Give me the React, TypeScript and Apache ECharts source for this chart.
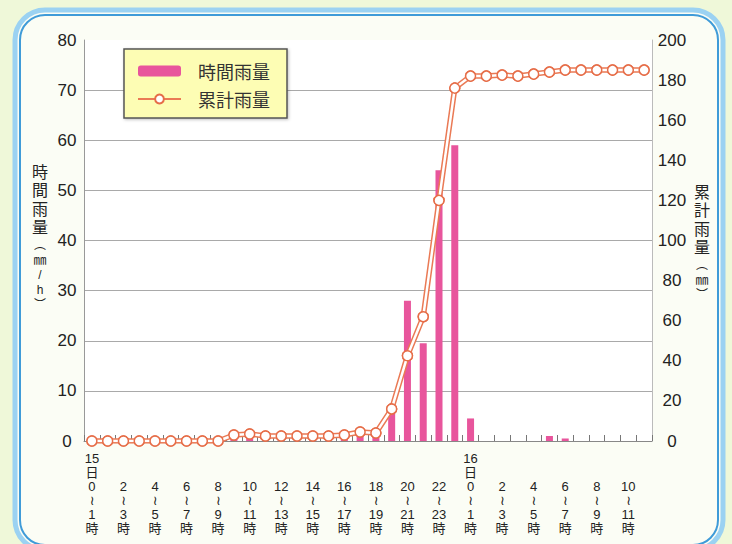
import React, { useEffect, useRef } from "react";
import * as echarts from "echarts";

const categories = [
  "15日0～1時", "1～2時", "2～3時", "3～4時", "4～5時", "5～6時", "6～7時", "7～8時",
  "8～9時", "9～10時", "10～11時", "11～12時", "12～13時", "13～14時", "14～15時", "15～16時",
  "16～17時", "17～18時", "18～19時", "19～20時", "20～21時", "21～22時", "22～23時", "23～24時",
  "16日0～1時", "1～2時", "2～3時", "3～4時", "4～5時", "5～6時", "6～7時", "7～8時",
  "8～9時", "9～10時", "10～11時", "11～12時",
];

// 時間雨量 (mm/h)
const hourlyRain = [
  0, 0, 0, 0, 0, 0, 0, 0,
  0, 2, 0.5, 0, 0.5, 0, 0.5, 0,
  0.5, 1, 1, 6, 28, 19.5, 54, 59,
  4.5, 0, 0, 0, 0, 1, 0.5, 0,
  0, 0, 0, 0,
];

// 累計雨量 (mm)
const cumulativeRain = [
  0, 0, 0, 0, 0, 0, 0, 0,
  0, 3, 3.5, 2.5, 2.5, 2.5, 2.5, 2.5,
  3, 4.5, 4, 16, 42.5, 62, 120, 176,
  182, 182, 182.5, 182, 183, 184, 185, 185,
  185, 185, 185, 185,
];

const leftTicks = { min: 0, max: 80, interval: 10 };
const rightTicks = { min: 0, max: 200, interval: 20 };

const leftName = ["時", "間", "雨", "量", "︵", "㎜", "/", "h", "︶"];
const rightName = ["累", "計", "雨", "量", "︵", "㎜", "︶"];

const FONT = '"Liberation Sans", "Noto Sans CJK JP", "DejaVu Sans", sans-serif';
const CJK = '"Noto Sans CJK JP", "Liberation Sans", sans-serif';

function stackLabel(v: string): string {
  const m = v.match(/^(?:(\d+)日)?(\d+)～(\d+)時$/);
  if (!m) return v;
  const lines: string[] = [];
  if (m[1]) lines.push(m[1], "日");
  lines.push(m[2], "≀", m[3], "時");
  return lines.join("\n");
}

function verticalName(chars: string[]): string {
  return chars
    .map((ch) =>
      /[\u4e00-\u9fff]/.test(ch) ? `{c|${ch}}` : ch === "㎜" ? `{m|${ch}}` : `{p|${ch}}`
    )
    .join("\n");
}

export default function App() {
  const ref = useRef<HTMLDivElement>(null);

  useEffect(() => {
    if (!ref.current) return;
    const chart = echarts.init(ref.current, undefined, { renderer: "svg" });

    const rich = {
      c: { fontSize: 16, lineHeight: 18.5, fontFamily: FONT, color: "#222" },
      m: { fontSize: 13, lineHeight: 15.5, fontFamily: FONT, color: "#222" },
      p: { fontSize: 12, lineHeight: 15, fontFamily: FONT, color: "#222" },
    };

    const graphic: any[] = [
      {
        type: "rect",
        z: -10,
        silent: true,
        shape: { x: 0, y: 0, width: 732, height: 544 },
        style: { fill: "#eff8d9" },
      },
      {
        type: "rect",
        z: -9,
        silent: true,
        shape: { x: 15, y: 10, width: 708, height: 540, r: 30 },
        style: { fill: "#fbfdf5", stroke: "#9bd2f2", lineWidth: 5 },
      },
      {
        type: "rect",
        z: -8,
        silent: true,
        shape: { x: 20, y: 15, width: 698, height: 530, r: 25 },
        style: { fill: "none", stroke: "#3f9bd8", lineWidth: 2 },
      },
      {
        type: "text",
        x: 40,
        y: 163,
        style: {
          text: verticalName(leftName),
          rich,
          textAlign: "center",
          textVerticalAlign: "top",
          fill: "#222",
        },
      },
      {
        type: "text",
        x: 702,
        y: 183,
        style: {
          text: verticalName(rightName),
          rich,
          textAlign: "center",
          textVerticalAlign: "top",
          fill: "#222",
        },
      },
    ];

    const lineOrange = "#ea7a55";
    const markerBorder = "#e66d48";

    chart.setOption({
      animation: false,
      graphic,
      grid: {
        left: 84,
        right: 80,
        top: 40,
        bottom: 103,
        show: true,
        backgroundColor: "#ffffff",
        borderWidth: 0,
      },
      legend: {
        orient: "vertical",
        left: 124,
        top: 49,
        padding: [13, 17, 10, 13],
        itemGap: 10,
        itemWidth: 43,
        itemHeight: 11,
        backgroundColor: "#fdfdb4",
        borderColor: "#555",
        borderWidth: 1.5,
        shadowColor: "rgba(0,0,0,0.25)",
        shadowBlur: 3,
        shadowOffsetX: 1,
        shadowOffsetY: 1,
        textStyle: { fontSize: 18, color: "#333", fontFamily: CJK, padding: [0, 0, 0, 12] },
        data: ["時間雨量", "累計雨量"],
      },
      xAxis: {
        type: "category",
        data: categories,
        boundaryGap: true,
        axisLine: { show: true, lineStyle: { color: "#888", width: 1 } },
        axisTick: {
          show: true,
          inside: true,
          length: 6,
          interval: 0,
          lineStyle: { color: "#777" },
        },
        axisLabel: {
          interval: 1,
          margin: 94,
          verticalAlign: "bottom",
          fontSize: 13,
          lineHeight: 14,
          color: "#222",
          fontFamily: FONT,
          formatter: (v: string) => stackLabel(v),
        },
        splitLine: { show: false },
      },
      yAxis: [
        {
          type: "value",
          ...leftTicks,
          position: "left",
          axisLine: { show: true, lineStyle: { color: "#999" } },
          axisTick: { show: false },
          axisLabel: {
            margin: 17,
            align: "center",
            fontSize: 17,
            color: "#222",
            fontFamily: FONT,
          },
          splitLine: {
            show: true,
            showMinLine: false,
            showMaxLine: false,
            lineStyle: { color: "#a9a9a9", width: 1 },
          },
        },
        {
          type: "value",
          ...rightTicks,
          position: "right",
          axisLine: { show: true, lineStyle: { color: "#bbb" } },
          axisTick: { show: false },
          axisLabel: {
            margin: 20,
            align: "center",
            fontSize: 17,
            color: "#222",
            fontFamily: FONT,
          },
          splitLine: { show: false },
        },
      ],
      series: [
        {
          name: "時間雨量",
          type: "bar",
          yAxisIndex: 0,
          data: hourlyRain,
          barWidth: 7,
          itemStyle: { color: "#e8559c" },
          z: 2,
        },
        {
          name: "累計雨量",
          type: "line",
          yAxisIndex: 1,
          data: cumulativeRain,
          symbol: "circle",
          symbolSize: 10,
          lineStyle: { color: lineOrange, width: 5.5 },
          itemStyle: { color: "#fff", borderColor: markerBorder, borderWidth: 1.5 },
          z: 3,
        },
        {
          name: "累計雨量内線",
          type: "line",
          yAxisIndex: 1,
          data: cumulativeRain,
          symbol: "none",
          silent: true,
          lineStyle: { color: "#fff", width: 2.5 },
          z: 4,
        },
        {
          name: "累計雨量点",
          type: "line",
          yAxisIndex: 1,
          data: cumulativeRain,
          symbol: "circle",
          symbolSize: 10,
          silent: true,
          lineStyle: { width: 0, opacity: 0 },
          itemStyle: { color: "#fff", borderColor: markerBorder, borderWidth: 1.5 },
          z: 5,
        },
      ],
    });

    return () => chart.dispose();
  }, []);

  return (
    <div
      ref={ref}
      style={{ width: 732, height: 544, position: "absolute", left: 0, top: 0 }}
    />
  );
}
